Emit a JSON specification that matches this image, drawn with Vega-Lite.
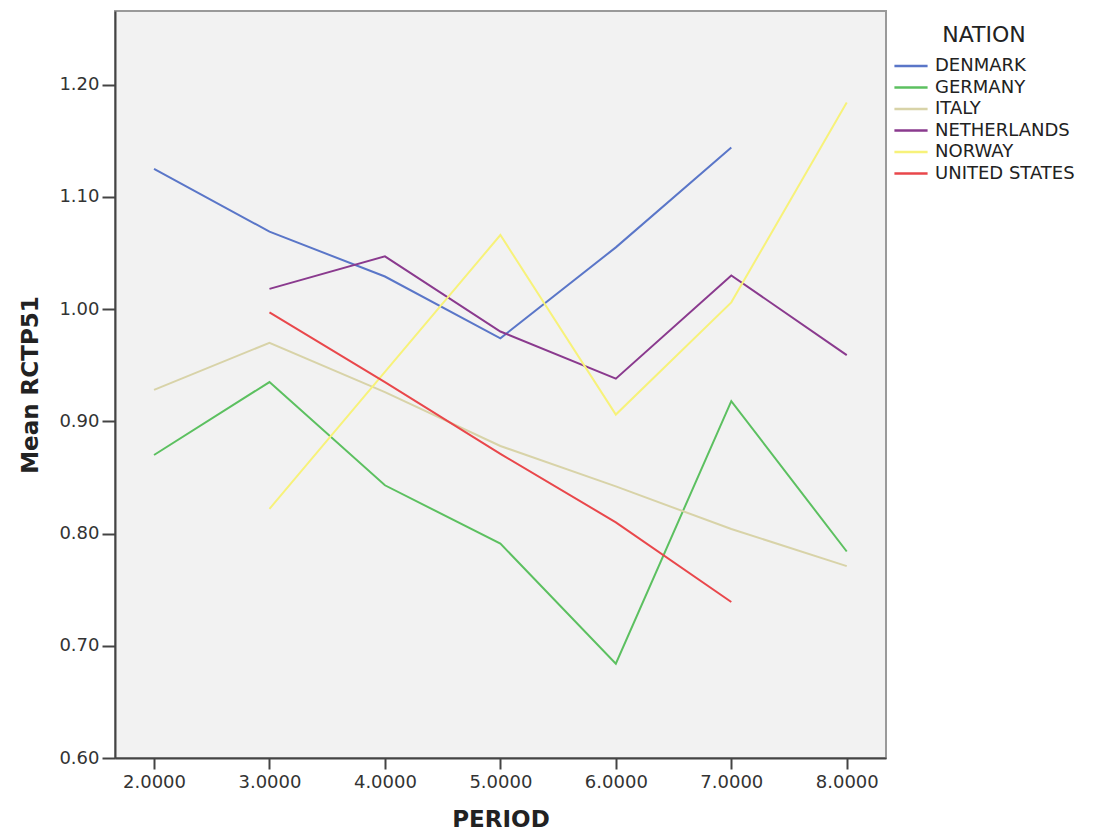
{
  "$schema": "https://vega.github.io/schema/vega-lite/v6.json",
  "width": 771,
  "height": 747,
  "autosize": {"type": "none"},
  "padding": {"left": 115, "top": 11, "right": 218, "bottom": 75},
  "background": "white",
  "config": {
    "font": "DejaVu Sans",
    "view": {"fill": "#F2F2F2", "stroke": "#9a9a9a", "strokeWidth": 2},
    "axis": {
      "domainColor": "#444444",
      "domainWidth": 2,
      "tickColor": "#444444",
      "tickWidth": 2,
      "grid": false,
      "labelColor": "#333333",
      "labelFont": "DejaVu Sans",
      "labelFontSize": 18,
      "titleFont": "DejaVu Sans",
      "titleFontWeight": "bold",
      "titleFontSize": 23,
      "titleColor": "#222222"
    }
  },
  "data": {
    "values": [
      {"nation": "DENMARK", "period": 2, "mean": 1.125},
      {"nation": "DENMARK", "period": 3, "mean": 1.069},
      {"nation": "DENMARK", "period": 4, "mean": 1.029},
      {"nation": "DENMARK", "period": 5, "mean": 0.974},
      {"nation": "DENMARK", "period": 6, "mean": 1.055},
      {"nation": "DENMARK", "period": 7, "mean": 1.144},
      {"nation": "GERMANY", "period": 2, "mean": 0.870},
      {"nation": "GERMANY", "period": 3, "mean": 0.935},
      {"nation": "GERMANY", "period": 4, "mean": 0.843},
      {"nation": "GERMANY", "period": 5, "mean": 0.791},
      {"nation": "GERMANY", "period": 6, "mean": 0.684},
      {"nation": "GERMANY", "period": 7, "mean": 0.918},
      {"nation": "GERMANY", "period": 8, "mean": 0.784},
      {"nation": "ITALY", "period": 2, "mean": 0.928},
      {"nation": "ITALY", "period": 3, "mean": 0.970},
      {"nation": "ITALY", "period": 4, "mean": 0.926},
      {"nation": "ITALY", "period": 5, "mean": 0.878},
      {"nation": "ITALY", "period": 6, "mean": 0.842},
      {"nation": "ITALY", "period": 7, "mean": 0.804},
      {"nation": "ITALY", "period": 8, "mean": 0.771},
      {"nation": "NETHERLANDS", "period": 3, "mean": 1.018},
      {"nation": "NETHERLANDS", "period": 4, "mean": 1.047},
      {"nation": "NETHERLANDS", "period": 5, "mean": 0.980},
      {"nation": "NETHERLANDS", "period": 6, "mean": 0.938},
      {"nation": "NETHERLANDS", "period": 7, "mean": 1.030},
      {"nation": "NETHERLANDS", "period": 8, "mean": 0.959},
      {"nation": "NORWAY", "period": 3, "mean": 0.822},
      {"nation": "NORWAY", "period": 4, "mean": 0.944},
      {"nation": "NORWAY", "period": 5, "mean": 1.066},
      {"nation": "NORWAY", "period": 6, "mean": 0.906},
      {"nation": "NORWAY", "period": 7, "mean": 1.006},
      {"nation": "NORWAY", "period": 8, "mean": 1.184},
      {"nation": "UNITED STATES", "period": 3, "mean": 0.997},
      {"nation": "UNITED STATES", "period": 4, "mean": 0.935},
      {"nation": "UNITED STATES", "period": 5, "mean": 0.871},
      {"nation": "UNITED STATES", "period": 6, "mean": 0.810},
      {"nation": "UNITED STATES", "period": 7, "mean": 0.739}
    ]
  },
  "mark": {"type": "line", "strokeWidth": 2, "clip": true},
  "encoding": {
    "x": {
      "field": "period",
      "type": "quantitative",
      "title": "PERIOD",
      "scale": {"domain": [1.662, 8.34], "nice": false, "zero": false},
      "axis": {
        "values": [2, 3, 4, 5, 6, 7, 8],
        "format": ".4f",
        "tickSize": 11,
        "labelPadding": 4,
        "titlePadding": 17
      }
    },
    "y": {
      "field": "mean",
      "type": "quantitative",
      "title": "Mean RCTP51",
      "scale": {"domain": [0.6, 1.2656], "nice": false, "zero": false},
      "axis": {
        "values": [0.6, 0.7, 0.8, 0.9, 1.0, 1.1, 1.2],
        "format": ".2f",
        "tickSize": 13,
        "labelPadding": 3,
        "titlePadding": 16
      }
    },
    "color": {
      "field": "nation",
      "type": "nominal",
      "title": "NATION",
      "scale": {
        "domain": ["DENMARK", "GERMANY", "ITALY", "NETHERLANDS", "NORWAY", "UNITED STATES"],
        "range": ["#5a76c8", "#5cc060", "#d8d3a8", "#8a3a8e", "#f7f27a", "#e9474b"]
      },
      "legend": {
        "orient": "none",
        "legendX": 778,
        "legendY": 14,
        "symbolType": "stroke",
        "symbolSize": 1100,
        "symbolStrokeWidth": 2.5,
        "clipHeight": 20,
        "labelFont": "DejaVu Sans",
        "labelFontSize": 18,
        "labelColor": "#222222",
        "labelOffset": 6,
        "rowPadding": 1.5,
        "titleFont": "DejaVu Sans",
        "titleFontSize": 22,
        "titleFontWeight": "normal",
        "titleColor": "#222222",
        "titlePadding": 9,
        "titleAnchor": "middle"
      }
    }
  }
}
